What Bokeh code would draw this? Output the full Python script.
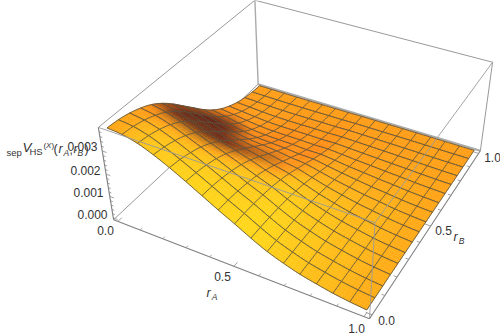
import numpy as np
from bokeh.plotting import figure
from bokeh.embed import file_html
from bokeh.resources import INLINE
from bokeh.core.properties import value

# surface heights in units of 1e-6; one list per r_A = 0 .. 1, entries r_B = 0 .. 1
z_ra_00 = [3900,3861,3764,3608,3393,3081,2691,2243,1794,1346,956,644,410,234,117,47,16]
z_ra_01 = [3842,3786,3672,3500,3260,2928,2526,2083,1639,1214,852,566,353,197,95,37,12]
z_ra_02 = [3686,3615,3489,3307,3048,2707,2303,1876,1450,1057,730,478,289,156,70,26,7]
z_ra_03 = [3432,3356,3228,3048,2789,2457,2069,1671,1273,917,626,405,239,125,55,21,3]
z_ra_04 = [3120,3051,2934,2771,2535,2233,1881,1519,1157,833,569,368,217,113,50,19,3]
z_ra_05 = [2769,2716,2622,2485,2290,2034,1730,1410,1089,794,549,359,217,117,53,20,6]
z_ra_06 = [2399,2364,2293,2186,2035,1829,1577,1300,1024,758,532,354,220,123,59,23,7]
z_ra_07 = [2028,2008,1957,1876,1764,1602,1399,1166,933,700,497,335,213,122,61,24,8]
z_ra_08 = [1677,1669,1640,1585,1506,1392,1241,1062,869,676,495,344,226,139,75,35,13]
z_ra_09 = [1307,1304,1287,1251,1195,1116,1006,872,721,571,425,299,200,125,71,34,13]
z_ra_10 = [975,975,966,943,906,854,778,683,572,460,346,249,169,108,63,32,14]
z_ra_11 = [722,722,718,704,679,644,593,527,448,365,282,206,142,93,56,30,14]
z_ra_12 = [507,507,505,498,483,461,429,385,332,274,216,160,112,75,46,26,12]
z_ra_13 = [351,351,351,347,339,325,305,277,242,202,161,121,86,58,37,21,11]
z_ra_14 = [215,215,215,213,207,199,187,170,148,124,99,74,53,35,23,13,6]
z_ra_15 = [117,117,117,116,113,108,102,92,81,67,54,40,29,19,12,7,4]
z_ra_16 = [47,47,47,47,45,43,41,37,32,27,22,16,12,8,5,3,1]
Z_TABLE = 1e-6*np.array([z_ra_00,z_ra_01,z_ra_02,z_ra_03,z_ra_04,z_ra_05,z_ra_06,z_ra_07,z_ra_08,
                         z_ra_09,z_ra_10,z_ra_11,z_ra_12,z_ra_13,z_ra_14,z_ra_15,z_ra_16], float).T

a_labels = ["0.0", "0.5", "1.0"]
b_labels = ["0.0", "0.5", "1.0"]
z_labels = ["0.000", "0.001", "0.002", "0.003"]

PAD = 0.02
Z_LO, Z_HI = -0.00008, 0.00398

cam_box = np.array([[0,0,0],[1,0,0],[1,1,0],[0,1,0],[0,0,1],[1,0,1],[1,1,1],[0,1,1]], float)
cam_px = np.array([[113,219],[368.5,318.5],[480,150],[258,84],[98,127],[375,222],[492,62],[254,-0.5]], float)
A = []; B = []
for (X,Y,Z),(u,v) in zip(cam_box, cam_px):
    A.append([X,Y,Z,1,0,0,0,0,-u*X,-u*Y,-u*Z]); B.append(u)
    A.append([0,0,0,0,X,Y,Z,1,-v*X,-v*Y,-v*Z]); B.append(v)
h = np.linalg.lstsq(np.array(A), np.array(B), rcond=None)[0]
H = np.append(h, 1.0).reshape(3,4)

def project(X, Y, Z):
    X, Y, Z = np.asarray(X,float), np.asarray(Y,float), np.asarray(Z,float)
    w = H[2,0]*X + H[2,1]*Y + H[2,2]*Z + H[2,3]
    return (H[0,0]*X+H[0,1]*Y+H[0,2]*Z+H[0,3])/w, (H[1,0]*X+H[1,1]*Y+H[1,2]*Z+H[1,3])/w

def bx(a): return (np.asarray(a,float)+PAD)/(1+2*PAD)
def bz(z): return (np.asarray(z,float)-Z_LO)/(Z_HI-Z_LO)

def upsample(v, n, axis):
    v = np.moveaxis(v, axis, 0)
    e = np.concatenate([[2*v[0]-v[1]], v, [2*v[-1]-v[-2]]])
    out = []
    for k in range(len(v)-1):
        for t in np.arange(n)/n:
            p0,p1,p2,p3 = e[k],e[k+1],e[k+2],e[k+3]
            out.append(0.5*(2*p1+(p2-p0)*t+(2*p0-5*p1+4*p2-p3)*t*t+(3*p1-p0-3*p2+p3)*t**3))
    out.append(v[-1])
    return np.moveaxis(np.array(out), 0, axis)

SUB = 4
N = Z_TABLE.shape[0] - 1
ZF = upsample(upsample(Z_TABLE, SUB, 0), SUB, 1)
ga = np.linspace(0, 1, ZF.shape[1]); gb = np.linspace(0, 1, ZF.shape[0])
AA, BB = np.meshgrid(ga, gb)
PX, PY = project(bx(AA), bx(BB), bz(ZF))

dzb, dza = np.gradient(0.4*bz(ZF), gb, ga)
norm = np.sqrt(1+dza**2+dzb**2)
nx, ny, nz = -dza/norm, -dzb/norm, 1/norm
fold = np.clip(ny-0.17, 0, 0.28)**2 * np.clip((nx-0.1)/0.15, 0, 1)
R = 100*nx + 270*nz - 10*ny - 1700*fold
G = 155*nx + 158*nz - 50*ny - 1300*fold
Bc = 22*nz + 15*nx
def hexc(r,g,b):
    return "#%02x%02x%02x" % (int(np.clip(r,0,255)), int(np.clip(g,0,255)), int(np.clip(b,0,255)))

p = figure(width=500, height=335, x_range=(0,500), y_range=(335,0), toolbar_location=None,
           output_backend="svg", x_axis_type=None, y_axis_type=None, min_border=0,
           outline_line_color=None, margin=(0,0,0,0))
p.grid.visible = False

def box_line(c0, c1, color="#999999", width=1.0, alpha=1.0):
    x, y = project([c0[0],c1[0]],[c0[1],c1[1]],[c0[2],c1[2]])
    p.line(x, y, line_color=color, line_width=width, line_alpha=alpha)

box_line((0,1,0),(1,1,0),"#aaaaaa",2.0)
box_line((0,0,0),(0,1,0),"#999999")
box_line((0,1,0),(0,1,1),"#aaaaaa",1.4)
box_line((0,0,1),(0,1,1))
box_line((0,1,1),(1,1,1))
box_line((1,1,0),(1,1,1))

MESH = "#5b5240"
for j in range(N-1, -1, -1):
    xs, ys, cols = [], [], []
    for sj in range(SUB*(j+1)-1, SUB*j-1, -1):
        for si in range(ZF.shape[1]-1):
            xs.append([PX[sj,si],PX[sj,si+1],PX[sj+1,si+1],PX[sj+1,si]])
            ys.append([PY[sj,si],PY[sj,si+1],PY[sj+1,si+1],PY[sj+1,si]])
            r=(R[sj,si]+R[sj,si+1]+R[sj+1,si]+R[sj+1,si+1])/4
            g=(G[sj,si]+G[sj,si+1]+G[sj+1,si]+G[sj+1,si+1])/4
            b=(Bc[sj,si]+Bc[sj,si+1]+Bc[sj+1,si]+Bc[sj+1,si+1])/4
            cols.append(hexc(r,g,b))
    p.patches(xs, ys, fill_color=cols, line_color=cols, line_width=0.5)
    mx, my = [], []
    for i in range(N+1):
        mx.append(list(PX[SUB*j:SUB*(j+1)+1, SUB*i])); my.append(list(PY[SUB*j:SUB*(j+1)+1, SUB*i]))
    for jj in (j, j+1):
        mx.append(list(PX[SUB*jj])); my.append(list(PY[SUB*jj]))
    p.multi_line(mx, my, line_color=MESH, line_width=1.0, line_alpha=0.85)

box_line((0,0,1),(1,0,1),"#9a9a9a",1.0,0.9)
box_line((1,0,1),(1,0,0),"#9a9a9a",1.0,0.9)
box_line((1,0,1),(1,1,1),"#9a9a9a",1.0,0.9)
box_line((0,0,0),(1,0,0),"#808080",1.1)
box_line((1,0,0),(1,1,0),"#808080",1.1)
box_line((0,0,0),(0,0,1),"#808080",1.1)

tx, ty = [], []
for k in range(11):
    v = k/10; L = 0.022 if k % 5 == 0 else 0.012
    x,y = project([bx(v),bx(v)],[0,L],[0,0]); tx.append(list(x)); ty.append(list(y))
    x,y = project([1,1-L],[bx(v),bx(v)],[0,0]); tx.append(list(x)); ty.append(list(y))
for k in range(0,20):
    v = k*0.0002; L = 0.018 if k % 5 == 0 else 0.01
    x,y = project([0,L],[0,0],[bz(v),bz(v)]); tx.append(list(x)); ty.append(list(y))
p.multi_line(tx, ty, line_color="#8a8a8a", line_width=0.8)

FONT = value("Liberation Sans")
def put(x, y, s, size, color="#333333", style="normal", align="center"):
    p.text([x],[y],text=[s],text_font=FONT,text_font_size=f"{size}px",text_color=color,
           text_font_style=style,text_align=align,text_baseline="middle")

for s,x,y in zip(z_labels,[92,88,85,82],[214,192,170,146]): put(x,y,s,12)
for s,x,y in zip(a_labels,[105,222,356],[230,276,327.6]): put(x,y,s,12)
for s,x,y in zip(b_labels,[386,443,492],[320,230,157]): put(x,y,s,12)
put(208,292,"r",12.5,style="italic"); put(214,296,"A",8.5,style="italic")
put(455,236,"r",12.5,style="italic"); put(461,240,"B",8.5,style="italic")
put(6,152,"sep",9.5,align="left")
put(22,147,"V",13.5,style="italic",align="left")
put(29,151,"HS",9.5,align="left")
put(43,145,"(",8,align="left"); put(45.5,145,"X",8,style="italic",align="left"); put(51,145,")",8,align="left")
put(53,148,"(",12.5,align="left")
put(58,148,"r",12.5,style="italic",align="left"); put(63,152,"A",8.5,style="italic",align="left")
put(69,149,",",12,align="left")
put(73,148,"r",12.5,style="italic",align="left"); put(77,152,"B",8.5,style="italic",align="left")
put(84,148,")",12.5,align="left")

open("out.html","w").write(file_html(p, INLINE))
